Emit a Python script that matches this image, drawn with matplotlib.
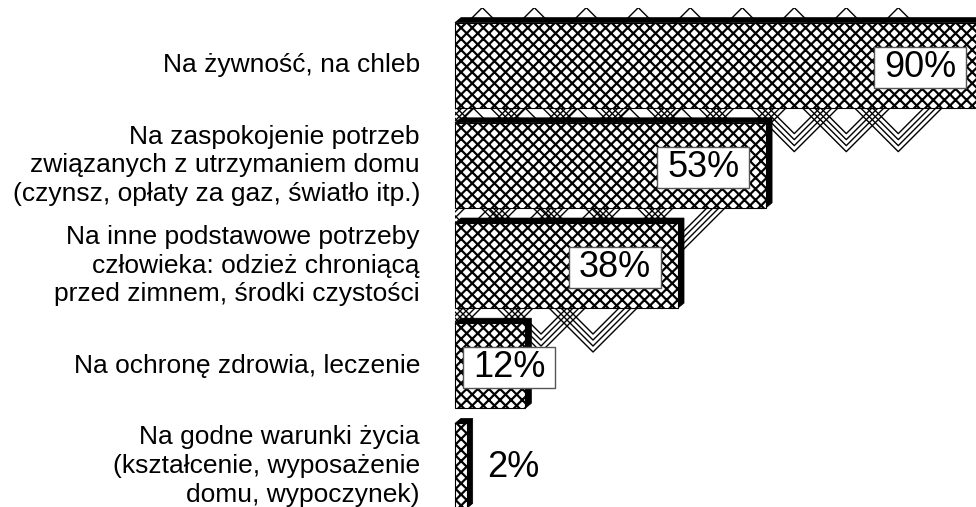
import numpy as np
import matplotlib
matplotlib.use("Agg")
import matplotlib.pyplot as plt
from matplotlib.patches import Rectangle, Polygon
from matplotlib.collections import LineCollection

categories = [
    "Na żywność, na chleb",
    "Na zaspokojenie potrzeb\nzwiązanych z utrzymaniem domu\n(czynsz, opłaty za gaz, światło itp.)",
    "Na inne podstawowe potrzeby\nczłowieka: odzież chroniącą\nprzed zimnem, środki czystości",
    "Na ochronę zdrowia, leczenie",
    "Na godne warunki życia\n(kształcenie, wyposażenie\ndomu, wypoczynek)",
]
values = [90, 53, 38, 12, 2]
value_labels = ["90%", "53%", "38%", "12%", "2%"]

plt.rcParams["font.family"] = ["Liberation Sans", "DejaVu Sans"]
plt.rcParams["hatch.linewidth"] = 1.6

W_PX, H_PX = 976, 507
fig = plt.figure(figsize=(W_PX / 100, H_PX / 100), dpi=100)
ax = fig.add_axes([0, 0, 1, 1])
ax.set_xlim(-77.5, 88.76)
ax.set_ylim(4.41, -0.65)
ax.axis("off")

# data units per pixel
kx = (88.76 + 77.5) / W_PX
ky = (4.41 + 0.65) / H_PX

ys = np.arange(len(values))
h = 85 * ky

# chevron backdrop behind the bars
W, P = 50, 52
for y, v in zip(ys, values):
    x1 = v - 35 * kx
    if x1 / kx < 2 * W:
        continue
    y_top = y - h / 2 - 15 * ky
    y_bot = y + h / 2 + 46 * ky
    segs = []
    c = x1 - W * kx
    while c + W * kx > 0:
        for m in range(4):
            b = y_bot - (2 + 6 * m) * ky
            segs.append([(c - W * kx, b - W * ky), (c, b), (c + W * kx, b - W * ky)])
        segs.append([(c - 24 * kx, y_top + 24 * ky), (c, y_top), (c + 24 * kx, y_top + 24 * ky)])
        c -= P * kx
    lc = LineCollection(segs, colors="black", linewidths=1, zorder=1)
    ax.add_collection(lc)
    clip = Rectangle((0, y_top), x1, y_bot - y_top, facecolor="none",
                     edgecolor="none", zorder=0)
    ax.add_patch(clip)
    lc.set_clip_path(clip)

# 3d extrusion (black edge up and right)
sx, sy = 6 * kx, 5 * ky
for y, v in zip(ys, values):
    top, bot = y - h / 2, y + h / 2
    ax.add_patch(Polygon([(0, top), (sx, top - sy), (v + sx, top - sy),
                          (v + sx, bot - sy), (v, bot), (v, top)],
                         closed=True, facecolor="black", edgecolor="black",
                         lw=0.5, zorder=2))

ax.barh(ys, values, height=h, color="white", edgecolor="black",
        hatch="xxx", linewidth=0.8, zorder=3)

# value labels
bw, bh = 92 * kx, 41 * ky
for y, v, lab in zip(ys, values, value_labels):
    face_px = v / kx
    if face_px >= 117:
        bx = v - 17 * kx - bw
    elif face_px >= 50:
        bx = 8 * kx
    else:
        ax.text(v + 20 * kx, y + 2 * ky, lab, ha="left", va="center",
                fontsize=26, zorder=5)
        continue
    ax.add_patch(Rectangle((bx, y - bh / 2 + 2 * ky), bw, bh, facecolor="white",
                           edgecolor="#555555", lw=1, zorder=4))
    ax.text(bx + bw / 2, y + 2 * ky, lab, ha="center", va="center",
            fontsize=26, zorder=5)

# category labels
for y, cat in zip(ys, categories):
    ax.text(-35 * kx, y, cat, ha="right", va="center", fontsize=19,
            linespacing=1.25)

fig.savefig("out.png", dpi=100)
